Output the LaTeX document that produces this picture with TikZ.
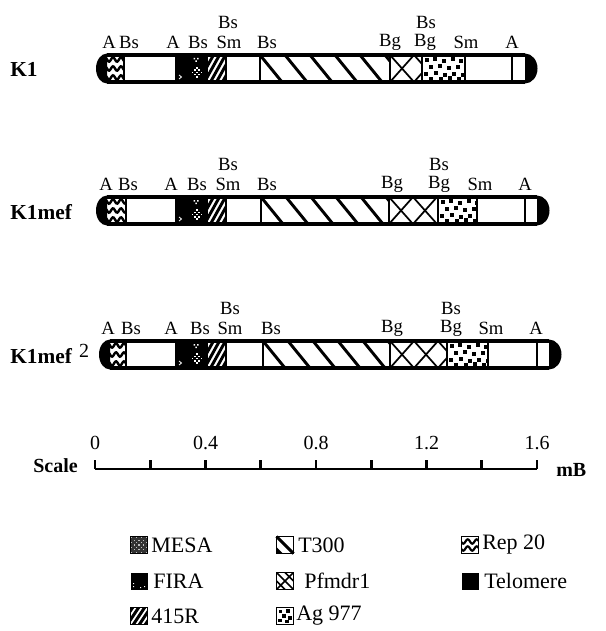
\documentclass[tikz,border=0pt]{standalone}
\usepackage{fontspec}
\setmainfont{Liberation Serif}
\def\agdots{5/5,13/4,22/6,31/4,39/6,9/12,18/11,27/13,36/12,4/19,14/18,23/20,32/19,41/20,9/24,19/24,28/23,37/24}
% #1 y top, #2 left cap start, #3 rep20 end, #4 T300 start, #5 T300 end, #6 Pfmdr1 end, #7 Ag977 end, #8 A line, #9 right cap start
\newcommand\drawchrom[9]{%
  \pgfmathsetmacro\yT{#1}\pgfmathsetmacro\yB{#1+27}\pgfmathsetmacro\yM{#1+13.5}%
  \pgfmathsetmacro\xa{#2}\pgfmathsetmacro\xb{#2+11}%
  \pgfmathsetmacro\xc{#9}\pgfmathsetmacro\xd{#9+12.5}%
  % Rep 20
  \begin{scope}
    \clip (\xb,\yT) rectangle (#3,\yB);
    \foreach \k in {4.5,13.5,22.5}{
      \draw[line width=1.8pt] plot[domain=\xb-2:#3+2, samples=25, smooth] (\x, {\yT+\k+2.2*sin(45*(\x-\xb))});
    }
  \end{scope}
  % MESA / FIRA
  \fill (176,\yT) rectangle (207.5,\yB);
  \foreach \i in {-3,...,3}{\foreach \j in {-3,...,3}{%
    \pgfmathtruncatemacro\s{abs(\i)+abs(\j)}%
    \pgfmathtruncatemacro\p{mod(abs(\i+\j),2)}%
    \ifnum\s<4 \ifnum\p=0 \fill[white] (197+2.2*\i-0.8, \yM+4+2.2*\j-0.8) rectangle ++(1.6,1.6); \fi\fi
  }}
  \fill[white] (193.5,\yT+3) rectangle ++(1.5,1.5) (197,\yT+3) rectangle ++(1.5,1.5) (195.3,\yT+5.5) rectangle ++(1.5,1.5);
  \draw[white, line width=0.6pt] (179,\yB-7) -- (181.5,\yB-5) -- (179,\yB-3);
  % 415R
  \begin{scope}
    \clip (207.5,\yT) rectangle (225.5,\yB);
    \foreach \k in {0,6,...,48} \draw[hatch] (207.5+\k-15,\yB) -- (207.5+\k,\yT);
  \end{scope}
  % T300
  \begin{scope}
    \clip (#4,\yT) rectangle (#5,\yB);
    \foreach \k in {0,25,...,150} \draw[hatch] (#4+\k,\yT) -- (#4+\k+22,\yB);
  \end{scope}
  % Pfmdr1
  \begin{scope}
    \clip (#5,\yT) rectangle (#6,\yB);
    \foreach \k in {0,24,...,96}{
      \draw[xhatch] (#5+\k,\yT) -- (#5+\k+24,\yB);
      \draw[xhatch] (#5+\k,\yB) -- (#5+\k+24,\yT);
    }
  \end{scope}
  % Ag 977
  \begin{scope}
    \clip (#6,\yT) rectangle (#7,\yB);
    \foreach \dx/\dy in \agdots \fill (#6+\dx-1.6,\yT+\dy-1.6) rectangle ++(3.2,3.2);
  \end{scope}
  % dividers
  \foreach \xx in {#3,176,225.5,#4,#5,#6,#7,#8} \draw[divider] (\xx,\yT) -- (\xx,\yB);
  % outline
  \draw[outline] (\xb,\yT) -- (\xc,\yT) (\xb,\yB) -- (\xc,\yB);
  % caps
  \begin{scope}
    \clip (\xa-3,\yT-3) rectangle (\xb,\yB+3);
    \fill (\xb,\yM) ellipse [x radius=11, y radius=15];
  \end{scope}
  \begin{scope}
    \clip (\xc,\yT-3) rectangle (\xd+3,\yB+3);
    \fill (\xc,\yM) ellipse [x radius=12.5, y radius=15];
  \end{scope}
}
\begin{document}
\begin{tikzpicture}[x=0.75pt,y=-0.75pt,
  lbl/.style={font=\fontsize{14}{16}\selectfont, inner sep=0pt},
  rowname/.style={font=\fontsize{16}{18}\selectfont\bfseries, inner sep=0pt, anchor=west},
  outline/.style={line width=2.3pt},
  divider/.style={line width=1.5pt},
  hatch/.style={line width=2.2pt},
  xhatch/.style={line width=1.3pt},
  legtxt/.style={font=\fontsize{16.5}{18}\selectfont, anchor=west, inner sep=0pt},
  iconbox/.style={draw, line width=1.2pt},
  scl/.style={font=\fontsize{15}{17}\selectfont, inner sep=0pt}]
\useasboundingbox (0,0) rectangle (606,631);

% ---------- K1 ----------
\node[rowname] (nK1) at (10,69) {K1};
\drawchrom{55}{96}{124}{260}{390}{422}{465}{512}{525}
\node[lbl] (a1a) at (109,42) {A};
\node[lbl] (a1b) at (129,42) {Bs};
\node[lbl] (a1c) at (173,42) {A};
\node[lbl] (a1d) at (198,42) {Bs};
\node[lbl] (a1e) at (229,42) {Sm};
\node[lbl] (a1f) at (228,22) {Bs};
\node[lbl] (a1g) at (267,42) {Bs};
\node[lbl] (a1h) at (390,42) {Bg};
\node[lbl] (a1i) at (425,42) {Bg};
\node[lbl] (a1j) at (426,22) {Bs};
\node[lbl] (a1k) at (466,42) {Sm};
\node[lbl] (a1l) at (512,42) {A};

% ---------- K1mef ----------
\node[rowname] (nK1mef) at (10,212) {K1mef};
\drawchrom{197}{96}{126}{261}{389}{438}{477}{525}{537}
\node[lbl] (a2a) at (106,184) {A};
\node[lbl] (a2b) at (128,184) {Bs};
\node[lbl] (a2c) at (171,184) {A};
\node[lbl] (a2d) at (197,184) {Bs};
\node[lbl] (a2e) at (228,184) {Sm};
\node[lbl] (a2f) at (228,164) {Bs};
\node[lbl] (a2g) at (267,184) {Bs};
\node[lbl] (a2h) at (392,184) {Bg};
\node[lbl] (a2i) at (439,184) {Bg};
\node[lbl] (a2j) at (439,164) {Bs};
\node[lbl] (a2k) at (480,184) {Sm};
\node[lbl] (a2l) at (525,184) {A};

% ---------- K1mef 2 ----------
\node[rowname] (nK1mef2) at (10,356) {K1mef};
\node[font=\fontsize{15}{17}\selectfont, inner sep=0pt] (sup2) at (84,351) {2};
\drawchrom{341}{99}{126}{263}{390}{447}{488}{537}{549}
\node[lbl] (a3a) at (108,328) {A};
\node[lbl] (a3b) at (131,328) {Bs};
\node[lbl] (a3c) at (171,328) {A};
\node[lbl] (a3d) at (200,328) {Bs};
\node[lbl] (a3e) at (230,328) {Sm};
\node[lbl] (a3f) at (230,308) {Bs};
\node[lbl] (a3g) at (271,328) {Bs};
\node[lbl] (a3h) at (392,328) {Bg};
\node[lbl] (a3i) at (451,328) {Bg};
\node[lbl] (a3j) at (451,308) {Bs};
\node[lbl] (a3k) at (491,328) {Sm};
\node[lbl] (a3l) at (536,328) {A};

% ---------- Scale ----------
\node[font=\fontsize{15}{17}\selectfont\bfseries, inner sep=0pt, anchor=east] (scaleT) at (78,466) {Scale};
\coordinate (s0) at (95,469);
\coordinate (s16) at (537,469);
\draw[line width=2.2pt] (s0) -- (s16);
\foreach \i in {0,...,8} \draw[line width=2pt] ({95+55.25*\i},469) -- ({95+55.25*\i},460);
\foreach \k/\t in {0/0,1/0.4,2/0.8,3/1.2,4/1.6}
  \node[scl] (sl\k) at ({95+110.5*\k},443) {\t};
\node[font=\fontsize{15}{17}\selectfont\bfseries, inner sep=0pt, anchor=west] (mB) at (556,470) {mB};

% ---------- Legend ----------
% MESA
\begin{scope}[shift={(139,545)}]
  \fill[black!80] (-8.5,-8.5) rectangle (8.5,8.5);
  \foreach \i in {-3,...,3}{\foreach \j in {-3,...,3}{%
    \pgfmathtruncatemacro\p{mod(abs(\i+\j),2)}%
    \ifnum\p=0 \fill[white!75!black] (2.4*\i-0.6,2.4*\j-0.6) rectangle ++(1.2,1.2); \fi}}
  \draw[iconbox] (-8.5,-8.5) rectangle (8.5,8.5);
\end{scope}
\node[legtxt] (lMESA) at (151,545) {MESA};
% FIRA
\begin{scope}[shift={(139,581)}]
  \fill (-8.5,-8.5) rectangle (8.5,8.5);
  \fill[white] (-6,5) rectangle ++(1.2,1.2) (-6,2) rectangle ++(1.2,1.2) (5,5) rectangle ++(1.2,1.2) (1,6) rectangle ++(1.2,1.2);
\end{scope}
\node[legtxt] (lFIRA) at (153,581) {FIRA};
% 415R
\begin{scope}[shift={(139,616)}]
  \begin{scope}
    \clip (-8.5,-8.5) rectangle (8.5,8.5);
    \foreach \k in {-18,-12,...,18} \draw[hatch] (\k-6,9) -- (\k+6,-9);
  \end{scope}
  \draw[iconbox] (-8.5,-8.5) rectangle (8.5,8.5);
\end{scope}
\node[legtxt] (l415R) at (151,616) {415R};
% T300
\begin{scope}[shift={(285,545)}]
  \draw[iconbox] (-8.5,-8.5) rectangle (8.5,8.5);
  \draw[hatch] (-8.5,-8.5) -- (8.5,8.5);
  \fill (-8.5,2) -- (-2,8.5) -- (-8.5,8.5) -- cycle;
\end{scope}
\node[legtxt] (lT300) at (298,545) {T300};
% Pfmdr1
\begin{scope}[shift={(285,581)}]
  \begin{scope}
    \clip (-8.5,-8.5) rectangle (8.5,8.5);
    \draw[xhatch] (-8.5,-8.5) -- (8.5,8.5) (-8.5,8.5) -- (8.5,-8.5) (0,-8.5) -- (8.5,0) (-8.5,0) -- (0,8.5);
  \end{scope}
  \draw[iconbox] (-8.5,-8.5) rectangle (8.5,8.5);
\end{scope}
\node[legtxt] (lPfmdr1) at (304,581) {Pfmdr1};
% Ag 977
\begin{scope}[shift={(285,616)}]
  \draw[iconbox] (-8.5,-8.5) rectangle (8.5,8.5);
  \foreach \dx/\dy in {-4.5/-4.5,3/-5,-1/0,5/2,-5/4.5,2/5.5}
    \fill (\dx-1.8,\dy-1.8) rectangle ++(3.6,3.6);
\end{scope}
\node[legtxt] (lAg) at (296,616) {Ag 977};
% Rep 20
\begin{scope}[shift={(470,545)}]
  \begin{scope}
    \clip (-8.5,-8.5) rectangle (8.5,8.5);
    \foreach \k in {-3.5,3.5}
      \draw[line width=1.6pt] plot[domain=-9:9, samples=25, smooth] (\x, {\k+2.2*sin(40*\x)});
  \end{scope}
  \draw[iconbox] (-8.5,-8.5) rectangle (8.5,8.5);
\end{scope}
\node[legtxt] (lRep) at (482,545) {Rep 20};
% Telomere
\begin{scope}[shift={(470,581)}]
  \fill (-8.5,-8.5) rectangle (8.5,8.5);
\end{scope}
\node[legtxt] (lTel) at (484,581) {Telomere};
\end{tikzpicture}
\end{document}
